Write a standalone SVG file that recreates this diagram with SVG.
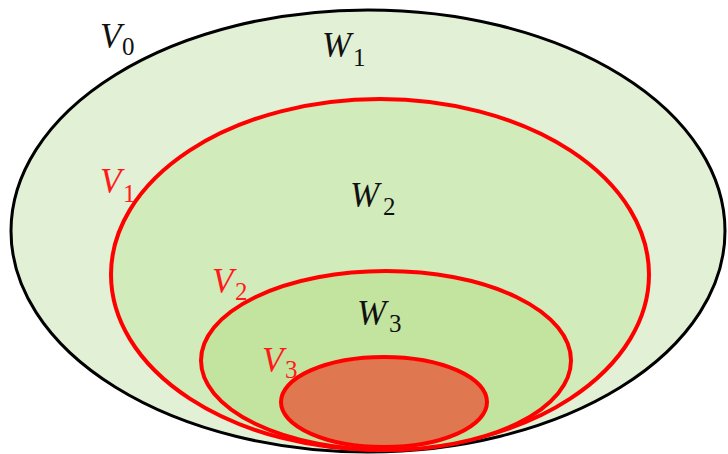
<svg xmlns="http://www.w3.org/2000/svg" width="728" height="454" viewBox="0 0 728 454">
<style>
.set{stroke:#ff0000;stroke-width:4}
.lbl{font-family:"Liberation Serif","DejaVu Serif",serif;font-style:italic;font-size:35px}
.sub{font-style:normal;font-size:25px}
.blk{fill:#111}
.red{fill:#ff1a1a}
</style>
<rect width="728" height="454" fill="#ffffff"/>
<g id="V0">
<ellipse cx="368" cy="231" rx="357" ry="221" fill="#e2f0d6" stroke="#000" stroke-width="3"/>
<text class="lbl blk" x="100" y="48">V<tspan class="sub" x="122" y="55">0</tspan></text>
<text class="lbl blk" x="322" y="57">W<tspan class="sub" x="353" y="66">1</tspan></text>
</g>
<g id="V1">
<ellipse class="set" cx="380" cy="274.5" rx="269" ry="175.5" fill="#d2ebbb"/>
<text class="lbl red" x="100" y="193">V<tspan class="sub" x="123" y="202">1</tspan></text>
<text class="lbl blk" x="350" y="207">W<tspan class="sub" x="383" y="215">2</tspan></text>
</g>
<g id="V2">
<ellipse class="set" cx="386" cy="360.5" rx="185" ry="89.5" fill="#c3e49f"/>
<text class="lbl red" x="212" y="293">V<tspan class="sub" x="235" y="300">2</tspan></text>
<text class="lbl blk" x="357" y="325">W<tspan class="sub" x="389" y="332">3</tspan></text>
</g>
<g id="V3">
<ellipse class="set" cx="384" cy="402" rx="103" ry="45" fill="#df7750"/>
<text class="lbl red" x="262" y="372">V<tspan class="sub" x="285" y="378">3</tspan></text>
</g>
</svg>
